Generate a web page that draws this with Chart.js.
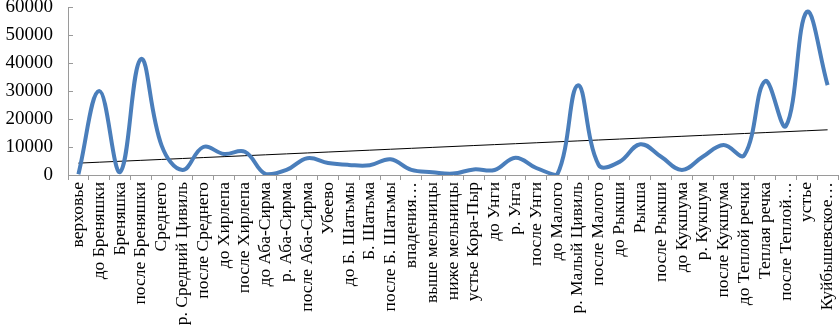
<!DOCTYPE html>
<html>
<head>
<meta charset="utf-8">
<script src="https://cdn.jsdelivr.net/npm/chart.js@4.4.1/dist/chart.umd.min.js"></script>
<style>
    html, body { margin: 0; padding: 0; background: #fff; }
    #wrap { width: 839px; height: 333px; position: relative; }
</style>
</head>
<body>
<div id="wrap"><canvas id="flowChart"></canvas></div>
<script>
// Points along the river
const categories = [
    'верховье', 'до Бреняшки', 'Бреняшка', 'после Бреняшки', 'Среднего',
    'р. Средний Цивиль', 'после Среднего', 'до Хирлепа', 'после Хирлепа',
    'до Аба-Сирма', 'р. Аба-Сирма', 'после Аба-Сирма', 'Убеево',
    'до Б. Шатьмы', 'Б. Шатьма', 'после Б. Шатьмы', 'впадения…',
    'выше мельницы', 'ниже мельницы', 'устье Кора-Пыр', 'до Унги', 'р. Унга',
    'после Унги', 'до Малого', 'р. Малый Цивиль', 'после Малого', 'до Рыкши',
    'Рыкша', 'после Рыкши', 'до Кукшума', 'р. Кукшум', 'после Кукшума',
    'до Теплой речки', 'Теплая речка', 'после Теплой…', 'устье', 'Куйбышевское…'
];

// Values
const flowValues = [
    300, 30000, 1000, 41400, 10500, 1800, 10000, 7500, 8300, 300,
    1800, 6000, 4300, 3600, 3500, 5600, 1800, 1000, 500, 2000,
    1800, 6200, 2500, 0, 32000, 3600, 4700, 11000, 6500, 1800,
    6500, 10700, 7100, 33500, 17500, 58300, 32100
];

const yTicks = [0, 10000, 20000, 30000, 40000, 50000, 60000];

// Linear trend (least squares), as the spreadsheet draws it
function linearTrend(values) {
    const n = values.length;
    let sx = 0, sy = 0, sxy = 0, sxx = 0;
    values.forEach((v, i) => {
        sx += i; sy += v; sxy += i * v; sxx += i * i;
    });
    const slope = (n * sxy - sx * sy) / (n * sxx - sx * sx);
    const icpt = (sy - slope * sx) / n;
    return values.map((v, i) => icpt + slope * i);
}

const serif = "'Liberation Serif', 'Times New Roman', serif";
const axisGray = '#9a9a9a';

// Small inward tick marks on the value axis
const innerTicks = {
    id: 'innerTicks',
    afterDraw(chart) {
        const y = chart.scales.y;
        const c = chart.ctx;
        c.save();
        c.strokeStyle = axisGray;
        c.lineWidth = 1;
        yTicks.forEach(v => {
            const py = Math.round(y.getPixelForValue(v)) + 0.5;
            c.beginPath();
            c.moveTo(y.right, py);
            c.lineTo(y.right + 5, py);
            c.stroke();
        });
        c.restore();
    }
};

const ctx = document.getElementById('flowChart').getContext('2d');
new Chart(ctx, {
    type: 'line',
    data: {
        labels: categories,
        datasets: [{
            data: flowValues,
            borderColor: '#4A7EBB',
            borderWidth: 4,
            tension: 0.4,
            pointRadius: 0,
            fill: false
        }, {
            data: linearTrend(flowValues),
            borderColor: '#000000',
            borderWidth: 1,
            tension: 0,
            pointRadius: 0,
            fill: false
        }]
    },
    options: {
        responsive: true,
        maintainAspectRatio: false,
        animation: false,
        layout: {
            padding: { top: 7, right: 1, left: 0, bottom: 0 }
        },
        plugins: {
            legend: { display: false },
            tooltip: { enabled: false }
        },
        scales: {
            x: {
                offset: true,
                grid: {
                    offset: true,
                    drawOnChartArea: false,
                    drawTicks: true,
                    tickLength: 5,
                    color: axisGray
                },
                border: { color: axisGray, width: 1 },
                ticks: {
                    autoSkip: false,
                    maxRotation: 90,
                    minRotation: 90,
                    padding: 2,
                    color: '#000',
                    font: { family: serif, size: 17.5 }
                },
                afterFit: (scale) => {
                    scale.height = 158;
                    scale.paddingLeft = 0;
                    scale.paddingRight = 0;
                }
            },
            y: {
                min: 0,
                max: 60000,
                afterBuildTicks: (scale) => {
                    scale.ticks = yTicks.map(v => ({ value: v }));
                },
                grid: {
                    display: true,
                    drawOnChartArea: false,
                    drawTicks: false
                },
                border: { color: axisGray, width: 1 },
                ticks: {
                    autoSkip: false,
                    padding: 15,
                    color: '#000',
                    font: { family: serif, size: 19 },
                    callback: (v) => String(v)
                },
                afterFit: (scale) => {
                    scale.width = 68;
                    scale.paddingTop = 0;
                    scale.paddingBottom = 0;
                }
            }
        }
    },
    plugins: [innerTicks]
});
</script>
</body>
</html>
